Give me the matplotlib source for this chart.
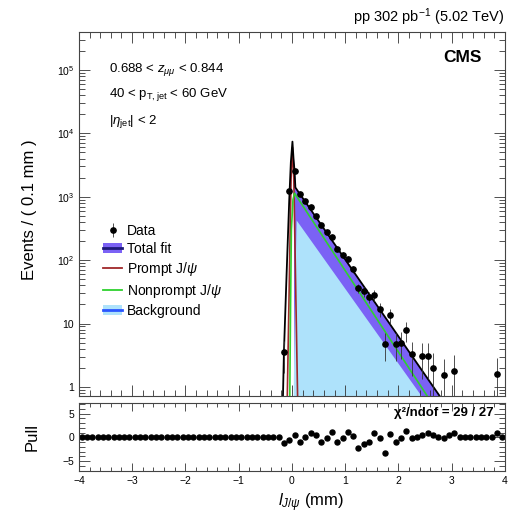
import numpy as np
import matplotlib
matplotlib.use("Agg")
import matplotlib.pyplot as plt
from matplotlib.patches import Patch
from matplotlib.lines import Line2D
from matplotlib.ticker import MultipleLocator, LogLocator, FixedLocator, NullFormatter

plt.rcParams['font.family'] = ['Liberation Sans', 'DejaVu Sans']
plt.rcParams['mathtext.fontset'] = 'custom'
plt.rcParams['mathtext.rm'] = 'Liberation Sans'
plt.rcParams['mathtext.it'] = 'Liberation Sans:italic'
plt.rcParams['mathtext.bf'] = 'Liberation Sans:bold'

# data points (bin centres in mm, events per 0.1 mm), empty bins left out
data_x = [-0.15, -0.05, 0.05, 0.15, 0.25, 0.35, 0.45, 0.55, 0.65, 0.75, 0.85, 0.95,
          1.05, 1.15, 1.25, 1.35, 1.45, 1.55, 1.65, 1.75, 1.85, 1.95, 2.05, 2.15,
          2.25, 2.45, 2.55, 2.65, 2.85, 3.05, 3.85]
data_y = [3.5, 1230, 2560, 1106, 862, 678, 504, 355, 280, 231, 150, 121,
          104, 72, 36, 32, 26.5, 28, 16.8, 4.8, 13.5, 4.8, 5.0, 7.9,
          3.3, 3.1, 3.1, 2.0, 1.55, 1.8, 1.6]

total_x = [-0.17, -0.15, -0.10, -0.05, -0.02, 0.01, 0.03, 0.05, 0.065, 2.75, 2.9]
total_y = [0.6, 3.5, 60, 900, 3500, 7400, 4000, 2500, 1400, 0.77, 0.5]
prompt_x = [-0.09, -0.055, -0.03, -0.015, 0.01, 0.035, 0.05, 0.075, 0.11]
prompt_y = [0.5, 23, 400, 2000, 6000, 2000, 400, 23, 0.5]
nonprompt_x = [-0.04, -0.025, -0.01, 0.02, 0.05, 2.54, 2.65]
nonprompt_y = [0.7, 20, 300, 900, 1135, 0.72, 0.52]
bkg_x = [0.02, 0.05, 0.08, 2.43, 2.55]
bkg_y = [0.5, 30, 430, 0.72, 0.5]

# pulls, one per 0.1 mm bin from -3.95 to 3.95
pull_vals = [0.0] * 38 + [
    -1.1, -0.6, 0.5, -1.0, 0.0, 1.0, 0.5, -0.9, -0.1, 1.2, -0.9, -0.1,
    1.2, 0.3, -2.3, -1.3, -1.0, 1.0, -0.1, -3.2, 0.8, -0.9, -0.1, 1.3,
    -0.1, 0.1, 0.4, 0.9, 0.5, 0.1, -0.1, 0.5, 0.9, 0.0,
    0.0, 0.0, 0.0, 0.0, 0.0, 0.0, 1.0, 0.0]
pull_x = np.round(np.arange(-3.95, 4.0, 0.1), 2)

purple = '#7b62f5'
lblue = '#aee2fb'
red = '#a0282a'
green = '#2ed12e'

fig = plt.figure(figsize=(5.09, 5.21), dpi=100)
ax = fig.add_axes([0.155, 0.240, 0.837, 0.699])
axp = fig.add_axes([0.155, 0.096, 0.837, 0.130])

ymin = 0.72
ax.set_yscale('log')

# fills
i0 = total_x.index(0.03)
ax.fill_between(total_x[i0:], 0.3, total_y[i0:], color=purple, lw=0)
ax.fill_between(bkg_x, 0.3, bkg_y, color=lblue, lw=0)

ax.plot(prompt_x, prompt_y, color=red, lw=1.2)
ax.plot(nonprompt_x, nonprompt_y, color=green, lw=1.2)
ax.plot(total_x, total_y, color='black', lw=1.3)

dy = np.array(data_y)
err = np.sqrt(dy)
lo = np.minimum(err, dy * 0.999)
eb = ax.errorbar(data_x, data_y, yerr=[lo, err], fmt='o', color='black',
                 ms=3.8, elinewidth=0.6, ecolor='#333333', capsize=0, zorder=5)

ax.set_xlim(-4, 4)
ax.set_ylim(ymin, 4.0e5)

def style(a):
    a.tick_params(which='both', direction='in', top=True, right=True,
                  labelsize=7.5, width=0.6, colors='#333333', labelcolor='black')
    a.tick_params(which='major', length=8)
    a.tick_params(which='minor', length=4)
    for s in a.spines.values():
        s.set_linewidth(0.8)
        s.set_color('#444444')

ax.xaxis.set_major_locator(MultipleLocator(1))
ax.xaxis.set_minor_locator(MultipleLocator(0.2))
ax.set_xticklabels([])
ax.yaxis.set_major_locator(FixedLocator([1, 10, 100, 1e3, 1e4, 1e5]))
ax.yaxis.set_minor_locator(LogLocator(base=10, subs=np.arange(2, 10), numticks=20))
ax.yaxis.set_minor_formatter(NullFormatter())
ax.set_yticklabels(['1', '10', r'$10^2$', r'$10^3$', r'$10^4$', r'$10^5$'])
style(ax)

# pull panel
axp.plot(pull_x, pull_vals, 'o', color='black', ms=3.6)
axp.set_xlim(-4, 4)
axp.set_ylim(-7.1, 7.2)
axp.xaxis.set_major_locator(MultipleLocator(1))
axp.xaxis.set_minor_locator(MultipleLocator(0.2))
axp.yaxis.set_major_locator(FixedLocator([-5, 0, 5]))
axp.yaxis.set_minor_locator(MultipleLocator(1))
style(axp)
axp.tick_params(which='major', axis='y', length=8)
axp.tick_params(which='major', axis='x', length=6)
axp.tick_params(which='minor', axis='x', length=3)

# legend
h_total = (Patch(facecolor=purple, edgecolor='none'), Line2D([], [], color='#1e1a7a', lw=2))
h_prompt = Line2D([], [], color=red, lw=1.3)
h_nonprompt = Line2D([], [], color=green, lw=1.3)
h_bkg = (Patch(facecolor=lblue, edgecolor='none'), Line2D([], [], color='#2a55ff', lw=2))
fig.legend([eb, h_total, h_prompt, h_nonprompt, h_bkg],
           ['Data', 'Total fit', r'Prompt J/$\psi$', r'Nonprompt J/$\psi$', 'Background'],
           loc='upper left', bbox_to_anchor=(0.203, 0.571), frameon=False,
           fontsize=10, handlelength=1.35, handletextpad=0.35, labelspacing=0.3,
           borderpad=0, borderaxespad=0)

# texts
fig.text(0.992, 0.967, r'pp 302 pb$^{-1}$ (5.02 TeV)', ha='right', va='center', fontsize=10.5)
fig.text(0.947, 0.889, 'CMS', ha='right', va='center', fontsize=12.5, fontweight='bold')
fig.text(0.214, 0.866, r'0.688 < $z_{\mu\mu}$ < 0.844', ha='left', va='center', fontsize=9.5)
fig.text(0.214, 0.818, r'40 < p$_{\mathrm{T,jet}}$ < 60 GeV', ha='left', va='center', fontsize=9.5)
fig.text(0.214, 0.767, r'|$\eta_{\mathrm{jet}}$| < 2', ha='left', va='center', fontsize=9.5)
fig.text(0.969, 0.207, 'χ²/ndof = 29 / 27', ha='right', va='center',
         fontsize=9.5, fontweight='bold')
fig.text(0.057, 0.597, 'Events / ( 0.1 mm )', rotation=90, ha='center', va='center', fontsize=12)
fig.text(0.063, 0.161, 'Pull', rotation=90, ha='center', va='center', fontsize=12)
fig.text(0.612, 0.036, r'$l_{J/\psi}$ (mm)', ha='center', va='center', fontsize=12)

fig.savefig('out.png', dpi=100)
